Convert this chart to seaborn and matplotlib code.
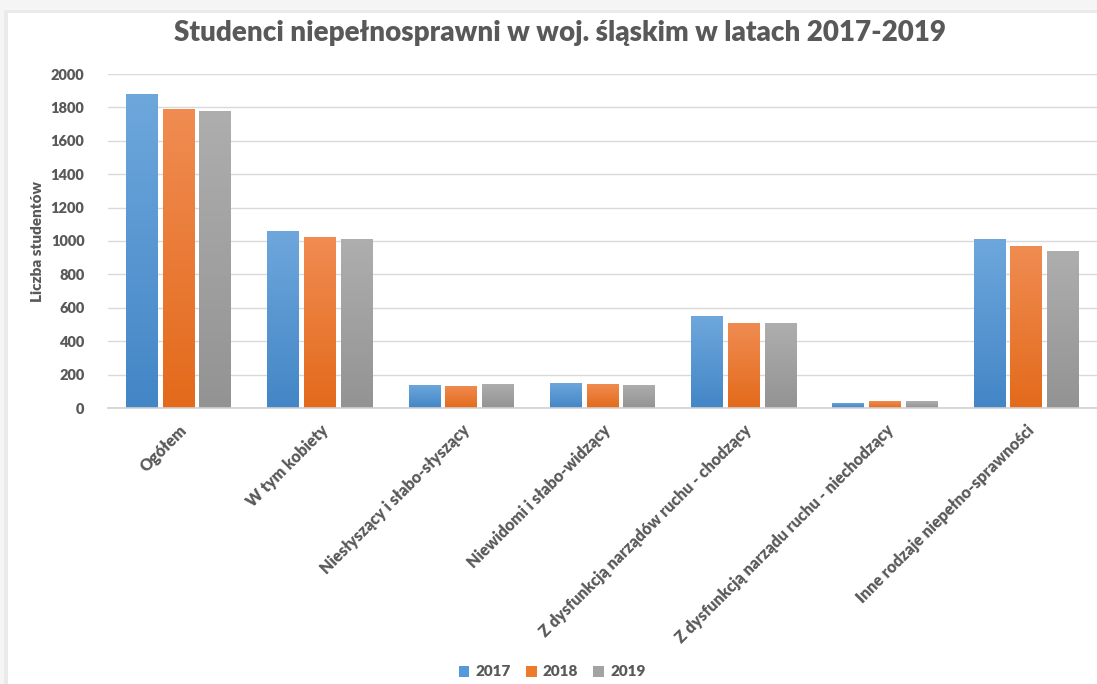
import matplotlib
matplotlib.use("Agg")
import matplotlib.pyplot as plt
import matplotlib.colors as mcolors
from matplotlib.patches import Rectangle
import seaborn as sns
import pandas as pd
import numpy as np

categories = ["Ogółem", "W tym kobiety", "Niesłyszący i słabo-słyszący",
              "Niewidomi i słabo-widzący", "Z dysfunkcją narządów ruchu - chodzący",
              "Z dysfunkcją narządu ruchu - niechodzący", "Inne rodzaje niepełno-sprawności"]
years = ["2017", "2018", "2019"]
v2017 = [1883, 1060, 138, 152, 550, 32, 1010]
v2018 = [1790, 1024, 132, 144, 509, 40, 968]
v2019 = [1778, 1010, 144, 138, 508, 40, 940]
yticks = [0, 200, 400, 600, 800, 1000, 1200, 1400, 1600, 1800, 2000]

df = pd.DataFrame({
    "cat": categories * 3,
    "year": [y for y in years for _ in categories],
    "val": v2017 + v2018 + v2019,
})

sns.set_theme(style="white")
plt.rcParams['font.family'] = ['Lato', 'DejaVu Sans']

W, H = 1097, 684
fig = plt.figure(figsize=(W / 100, H / 100), dpi=100)

# light frame (top and left shading of the original screenshot)
fig.patches.append(Rectangle((0, 1 - 10 / H), 1, 10 / H, transform=fig.transFigure,
                             facecolor="#F5F5F5", edgecolor="none", zorder=0))
fig.patches.append(Rectangle((0, 1 - 13 / H), 1, 3 / H, transform=fig.transFigure,
                             facecolor="#EAEAEA", edgecolor="none", zorder=0))
fig.patches.append(Rectangle((0, 0), 4 / W, 1 - 10 / H, transform=fig.transFigure,
                             facecolor="#F5F5F5", edgecolor="none", zorder=0))
fig.patches.append(Rectangle((4 / W, 0), 4 / W, 1 - 13 / H, transform=fig.transFigure,
                             facecolor="#EAEAEA", edgecolor="none", zorder=0))

ax = fig.add_axes([108 / W, 1 - 408 / H, (W - 108) / W, (408 - 74) / H])
ax.patch.set_alpha(0)

palette = {"2017": "#5599D8", "2018": "#EE7A2C", "2019": "#A3A3A3"}
grad = {"#5599D8": ("#6EA7DC", "#4386C6"),
        "#EE7A2C": ("#F08C52", "#E36A1B"),
        "#A3A3A3": ("#AEAEAE", "#939393")}
sns.barplot(data=df, x="cat", y="val", hue="year", palette=palette, ax=ax,
            width=0.78, gap=0.13, saturation=1, errorbar=None, legend=True,
            linewidth=0)

ax.set_ylim(0, 2000)
ax.set_xlim(-0.5, len(categories) - 0.5)

# vertical gradient fill inside each bar
for p in list(ax.patches):
    h = p.get_height()
    if h <= 0:
        continue
    col = mcolors.to_hex(p.get_facecolor())
    key = min(grad.keys(), key=lambda k: sum(abs(a - b) for a, b in zip(mcolors.to_rgb(k), mcolors.to_rgb(col))))
    top, bot = grad[key]
    cmap = mcolors.LinearSegmentedColormap.from_list("g", [bot, top])
    x0 = p.get_x(); w = p.get_width()
    im = ax.imshow(np.linspace(0, 1, 256).reshape(-1, 1), cmap=cmap, aspect="auto",
                   extent=(x0, x0 + w, 0, h), origin="lower", zorder=p.get_zorder() + 0.1,
                   interpolation="bicubic")
    im.set_clip_path(p)
ax.set_ylim(0, 2000)
ax.set_xlim(-0.5, len(categories) - 0.5)

txt = "#595959"
ax.set_yticks(yticks)
ax.set_yticklabels([str(t) for t in yticks], fontsize=10.5, fontweight="heavy", color=txt)
ax.yaxis.grid(True, color="#D9D9D9", linewidth=1)
ax.set_axisbelow(True)
for s in ["top", "right", "left"]:
    ax.spines[s].set_visible(False)
ax.spines["bottom"].set_color("#D0D0D0")
ax.spines["bottom"].set_linewidth(1.2)
ax.tick_params(axis="y", length=0, pad=17)
ax.tick_params(axis="x", length=0, pad=10)
ax.set_xticks(range(len(categories)))
ax.set_xticklabels(categories, rotation=45, ha="right", rotation_mode="anchor",
                   fontsize=11.5, fontweight="heavy", color=txt)
ax.set_xlabel("")
ax.set_ylabel("Liczba studentów", fontsize=11, fontweight="heavy", color=txt, labelpad=5)

fig.text(560 / W, 1 - 33 / H, "Studenci niepełnosprawni w woj. śląskim w latach 2017-2019",
         ha="center", va="center", fontsize=20, fontweight="heavy", color=txt)

ax.legend(loc="center", bbox_to_anchor=(552 / W, 1 - 672 / H), bbox_transform=fig.transFigure,
          ncol=3, frameon=False, handlelength=0.7, handleheight=0.7, columnspacing=1.0,
          handletextpad=0.4, prop={"size": 11, "weight": "heavy"}, labelcolor=txt)

fig.savefig("out.png", dpi=100, facecolor="white")
